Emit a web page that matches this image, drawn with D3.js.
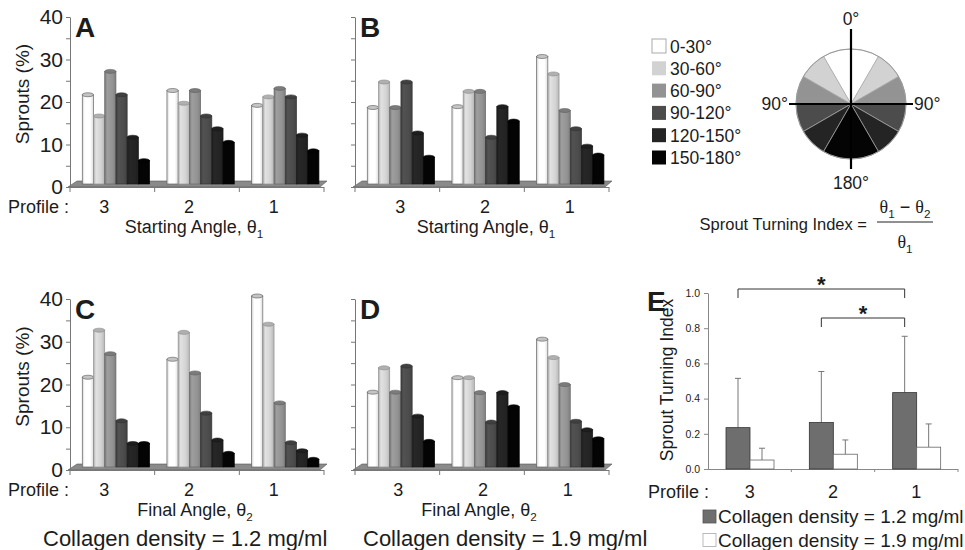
<!DOCTYPE html>
<html>
<head>
<meta charset="utf-8">
<script src="https://cdn.jsdelivr.net/npm/d3@7"></script>
<style>
  body { margin: 0; background: #fff; }
  svg { display: block; }
  text { font-family: "Liberation Sans", Arial, sans-serif; fill: #1c1c1c; }
</style>
</head>
<body>
<svg id="fig" width="965" height="550"></svg>
<script>
// categories
const profiles = ["3", "2", "1"];
const angleBins = ["0-30°", "30-60°", "60-90°", "90-120°", "120-150°", "150-180°"];
const binColors = ["#ffffff", "#d2d2d2", "#939393", "#4c4c4c", "#242424", "#040404"];

// Sprouts (%) for each profile (3, 2, 1), six angle bins each
const startLow  = [[21, 16, 26.5, 21, 11, 5.5], [22, 19, 22, 16, 13, 9.8], [18.5, 20.5, 22.5, 20.5, 11.5, 7.8]];
const startHigh = [[18, 24, 18, 24, 12, 6.3], [18.2, 21.8, 21.8, 11, 18.2, 14.8], [30, 25.9, 17.3, 13, 8.9, 6.8]];
const finalLow  = [[21, 32, 26.5, 10.8, 5.5, 5.5], [25.2, 31.5, 22, 12.6, 6.3, 3.2], [40, 33.4, 15, 5.7, 3.8, 1.8]];
const finalHigh = [[17.5, 23.2, 17.5, 23.6, 11.9, 6], [20.9, 20.9, 17.4, 10.5, 17.4, 14.1], [29.9, 25.6, 19.3, 10.7, 8.7, 6.6]];
const sproutTicks = [0, 5, 10, 15, 20, 25, 30, 35, 40];

// panel E: sprout turning index, mean and SD per profile (3, 2, 1)
const densities = ["Collagen density = 1.2 mg/ml", "Collagen density = 1.9 mg/ml"];
const stiLow = [0.235, 0.264, 0.434];
const stiLowSd = [0.28, 0.29, 0.32];
const stiHigh = [0.051, 0.084, 0.124];
const stiHighSd = [0.067, 0.081, 0.132];
const stiTicks = [0, 0.2, 0.4, 0.6, 0.8, 1.0];
const sigPairs = [["3", "1"], ["2", "1"]];

const svg = d3.select("#fig");
const defs = svg.append("defs");

// cylinder-ish shading for the 3D columns
binColors.forEach(function (c, j) {
  const base = d3.color(c);
  const lg = defs.append("linearGradient").attr("id", "cyl" + j)
    .attr("x1", 0).attr("x2", 1).attr("y1", 0).attr("y2", 0);
  lg.append("stop").attr("offset", "0%").attr("stop-color", base.darker(0.6));
  lg.append("stop").attr("offset", "22%").attr("stop-color", base.brighter(0.2));
  lg.append("stop").attr("offset", "70%").attr("stop-color", c);
  lg.append("stop").attr("offset", "100%").attr("stop-color", base.darker(0.4));
});

function addTheta(sel, sub, serif) {
  sel.append("tspan").text("θ").style("font-family", serif ? "'Liberation Serif', serif" : null);
  sel.append("tspan").text(sub).attr("dy", 5).style("font-size", "0.65em");
}

const barPanels = [
  {letter: "A", data: startLow,  ax: 70,  y0: 187, yTop: 17,  left: true,  shift: -8, tShift: 124, title: "Starting Angle, ", sub: "1"},
  {letter: "B", data: startHigh, ax: 355, y0: 187, yTop: 17,  left: false, shift: 3,  tShift: 131, title: "Starting Angle, ", sub: "1"},
  {letter: "C", data: finalLow,  ax: 70,  y0: 470, yTop: 299, left: true,  shift: -8, tShift: 125, title: "Final Angle, ", sub: "2", caption: densities[0], capX: 43},
  {letter: "D", data: finalHigh, ax: 355, y0: 470, yTop: 299, left: false, shift: 1,  tShift: 124, title: "Final Angle, ", sub: "2", caption: densities[1], capX: 363}
];

barPanels.forEach(function (p) {
  const g = svg.append("g");
  const y = d3.scaleLinear().domain([0, 40]).range([p.y0, p.yTop]);
  const x0 = d3.scaleBand().domain(profiles).range([p.ax, p.ax + 254]);
  const bw = x0.bandwidth();
  const x1 = d3.scaleBand().domain(d3.range(6)).range([bw * 0.145, bw * 0.94]);
  const lift = 3; // bars stand in the middle of the floor

  // floor
  const fl = p.ax - 2, fr = p.ax + 250;
  g.append("path")
    .attr("d", "M" + fl + "," + p.y0 + "L" + fr + "," + p.y0 + "L" + (fr + 7) + "," + (p.y0 - 6) + "L" + (fl + 9) + "," + (p.y0 - 6) + "Z")
    .attr("fill", "#8a8a8a").attr("stroke", "#555").attr("stroke-width", 0.6);

  // x axis line + ticks
  g.append("line").attr("x1", p.ax).attr("x2", p.ax + 254).attr("y1", p.y0 + 0.5).attr("y2", p.y0 + 0.5)
    .attr("stroke", "#777").attr("stroke-width", 1);
  g.selectAll(".xt").data([0, 1, 2, 3]).enter().append("line")
    .attr("x1", d => p.ax + d * bw).attr("x2", d => p.ax + d * bw)
    .attr("y1", p.y0).attr("y2", p.y0 + 5).attr("stroke", "#777");

  // y axis
  const yAxis = d3.axisLeft(y).tickValues(sproutTicks).tickSize(4).tickSizeOuter(0).tickPadding(3)
    .tickFormat(d => (p.left && d % 10 === 0) ? d : "");
  const ya = g.append("g").attr("transform", "translate(" + p.ax + ",0)").call(yAxis);
  ya.select(".domain").attr("stroke", "#777");
  ya.selectAll(".tick line").attr("stroke", "#777");
  ya.selectAll(".tick text").style("font-size", "21px").style("font-family", "'Liberation Sans', Arial, sans-serif").attr("fill", "#1c1c1c");

  // bars
  p.data.forEach(function (vals, i) {
    const gx = x0(profiles[i]);
    vals.forEach(function (v, j) {
      const bx = gx + x1(j), w = x1.bandwidth();
      const col = d3.color(binColors[j]);
      g.append("rect")
        .attr("x", bx).attr("y", y(v) - lift).attr("width", w).attr("height", y(0) - y(v))
        .attr("fill", "url(#cyl" + j + ")")
        .attr("stroke", j === 0 ? "#666" : col.darker(1)).attr("stroke-width", 0.7);
      g.append("ellipse")
        .attr("cx", bx + w / 2).attr("cy", y(v) - lift).attr("rx", w / 2).attr("ry", 2)
        .attr("fill", j === 0 ? "#c4c4c4" : col.darker(0.5))
        .attr("stroke", j === 0 ? "#555" : col.darker(1.2)).attr("stroke-width", 0.6);
    });
  });

  // panel letter
  g.append("text").attr("x", p.ax + 5).attr("y", p.yTop + 20).text(p.letter)
    .style("font-size", "28px").style("font-weight", "bold").attr("fill", "#000");

  // category labels
  g.selectAll(".cl").data(profiles).enter().append("text")
    .attr("x", d => x0(d) + bw / 2 + p.shift).attr("y", p.y0 + 26)
    .attr("text-anchor", "middle").style("font-size", "18px").text(d => d);
  if (p.left) {
    g.append("text").attr("x", 8).attr("y", p.y0 + 26).style("font-size", "18px").text("Profile :");
    g.append("text")
      .attr("transform", "translate(29," + ((p.y0 + p.yTop) / 2 - 8) + ") rotate(-90)")
      .attr("text-anchor", "middle").style("font-size", "19px").text("Sprouts (%)");
  }

  // axis title
  const t = g.append("text").attr("x", p.ax + p.tShift).attr("y", p.y0 + 46)
    .attr("text-anchor", "middle").style("font-size", "18px");
  t.append("tspan").text(p.title);
  addTheta(t, p.sub, false);

  if (p.caption) {
    g.append("text").attr("x", p.capX).attr("y", 546).style("font-size", "22px").text(p.caption);
  }
});

// legend for angle bins
const lg = svg.append("g");
angleBins.forEach(function (b, j) {
  const cy = 46 + j * 22.3;
  lg.append("rect").attr("x", 652).attr("y", cy - 7).attr("width", 14).attr("height", 14)
    .attr("fill", binColors[j]).attr("stroke", j === 0 ? "#aaa" : "none");
  lg.append("text").attr("x", 670).attr("y", cy + 6.5).style("font-size", "17.5px").text(b);
});

// angle pie
const pc = {x: 851, y: 104, r: 55};
const pie = svg.append("g").attr("transform", "translate(" + pc.x + "," + pc.y + ")");
const arc = d3.arc().innerRadius(0).outerRadius(pc.r);
angleBins.forEach(function (b, j) {
  const a0 = j * Math.PI / 6, a1 = (j + 1) * Math.PI / 6;
  [[a0, a1], [-a1, -a0]].forEach(function (s) {
    pie.append("path").attr("d", arc({startAngle: s[0], endAngle: s[1]}))
      .attr("fill", binColors[j]).attr("stroke", "#a8a8a8").attr("stroke-width", 0.7);
  });
});
pie.append("circle").attr("r", pc.r).attr("fill", "none").attr("stroke", "#999").attr("stroke-width", 1);
pie.append("line").attr("x1", 0).attr("x2", 0).attr("y1", -pc.r - 20).attr("y2", pc.r + 10).attr("stroke", "#000").attr("stroke-width", 2.2);
pie.append("line").attr("x1", -pc.r - 7).attr("x2", pc.r + 7).attr("y1", 0).attr("y2", 0).attr("stroke", "#000").attr("stroke-width", 2.2);
pie.append("text").attr("x", 0).attr("y", -pc.r - 24).attr("text-anchor", "middle").style("font-size", "17.5px").text("0°");
pie.append("text").attr("x", 0).attr("y", pc.r + 30).attr("text-anchor", "middle").style("font-size", "17.5px").text("180°");
pie.append("text").attr("x", -pc.r - 8).attr("y", 6).attr("text-anchor", "end").style("font-size", "17.5px").text("90°");
pie.append("text").attr("x", pc.r + 8).attr("y", 6).attr("text-anchor", "start").style("font-size", "17.5px").text("90°");

// turning index formula
const fx = 905;
svg.append("text").attr("x", 867).attr("y", 230).attr("text-anchor", "end").style("font-size", "16.5px").text("Sprout Turning Index =");
const num = svg.append("text").attr("x", fx).attr("y", 213).attr("text-anchor", "middle").style("font-size", "18px");
addTheta(num, "1", true);
num.append("tspan").text(" − ").attr("dy", -5);
addTheta(num, "2", true);
svg.append("line").attr("x1", 877).attr("x2", 933).attr("y1", 222).attr("y2", 222).attr("stroke", "#222").attr("stroke-width", 1);
const den = svg.append("text").attr("x", fx).attr("y", 248).attr("text-anchor", "middle").style("font-size", "18px");
addTheta(den, "1", true);

// panel E
const eg = svg.append("g");
const ey = d3.scaleLinear().domain([0, 1]).range([469, 293]);
const ex0 = d3.scaleBand().domain(profiles).range([708, 958]);
const ebw = ex0.bandwidth();
const ex1 = d3.scaleBand().domain([0, 1]).range([ebw * 0.216, ebw * 0.792]);
const eCols = ["#6e6e6e", "#ffffff"];
const eMeans = [stiLow, stiHigh];
const eSds = [stiLowSd, stiHighSd];

const eAxis = d3.axisLeft(ey).tickValues(stiTicks).tickSize(4).tickSizeOuter(0).tickPadding(4).tickFormat(d3.format(".1f"));
const eya = eg.append("g").attr("transform", "translate(708,0)").call(eAxis);
eya.select(".domain").attr("stroke", "#888");
eya.selectAll(".tick line").attr("stroke", "#888");
eya.selectAll(".tick text").style("font-size", "10.5px").style("font-family", "'Liberation Sans', Arial, sans-serif").attr("fill", "#333");
eg.append("line").attr("x1", 708).attr("x2", 958).attr("y1", 469.5).attr("y2", 469.5).attr("stroke", "#888");
eg.selectAll(".ext").data([1, 2, 3]).enter().append("line")
  .attr("x1", d => 708 + d * ebw).attr("x2", d => 708 + d * ebw)
  .attr("y1", 469).attr("y2", 472).attr("stroke", "#888");

[0, 1].forEach(function (s) {
  profiles.forEach(function (pr, i) {
    const bx = ex0(pr) + ex1(s), w = ex1.bandwidth();
    const m = eMeans[s][i], sd = eSds[s][i];
    const cx = bx + w / 2;
    eg.append("line").attr("x1", cx).attr("x2", cx).attr("y1", ey(m)).attr("y2", ey(m + sd)).attr("stroke", "#777").attr("stroke-width", 1);
    eg.append("line").attr("x1", cx - 3).attr("x2", cx + 3).attr("y1", ey(m + sd)).attr("y2", ey(m + sd)).attr("stroke", "#777").attr("stroke-width", 1);
    eg.append("rect").attr("x", bx).attr("y", ey(m)).attr("width", w).attr("height", ey(0) - ey(m))
      .attr("fill", eCols[s]).attr("stroke", s === 0 ? "#333" : "#666").attr("stroke-width", 0.8);
  });
});

// significance brackets
sigPairs.forEach(function (pair, k) {
  const xa = ex0(pair[0]) + ex1(0) + ex1.bandwidth() / 2;
  const xb = ex0(pair[1]) + ex1(0) + ex1.bandwidth() / 2;
  const by = ey(1) - 4 + k * 29;
  eg.append("path").attr("d", "M" + xa + "," + (by + 9) + "V" + by + "H" + xb + "V" + (by + 9))
    .attr("fill", "none").attr("stroke", "#333").attr("stroke-width", 1);
  eg.append("text").attr("x", (xa + xb) / 2).attr("y", by + 3).attr("text-anchor", "middle")
    .style("font-size", "22px").style("font-weight", "bold").text("*");
});

eg.append("text").attr("x", 647).attr("y", 311).text("E").style("font-size", "28px").style("font-weight", "bold").attr("fill", "#000");
eg.append("text").attr("transform", "translate(673,380) rotate(-90)").attr("text-anchor", "middle")
  .style("font-size", "17.5px").text("Sprout Turning Index");
eg.append("text").attr("x", 648).attr("y", 498).style("font-size", "18px").text("Profile :");
eg.selectAll(".ecl").data(profiles).enter().append("text")
  .attr("x", d => ex0(d) + ebw / 2).attr("y", 498).attr("text-anchor", "middle").style("font-size", "18px").text(d => d);

densities.forEach(function (d, s) {
  const cy = 516.5 + s * 23.5;
  eg.append("rect").attr("x", 703).attr("y", cy - 6.5).attr("width", 13).attr("height", 13)
    .attr("fill", eCols[s]).attr("stroke", s === 0 ? "#555" : "#aaa").attr("stroke-width", 0.8);
  eg.append("text").attr("x", 718).attr("y", cy + 6.5).style("font-size", "19px").text(d);
});
</script>
</body>
</html>
